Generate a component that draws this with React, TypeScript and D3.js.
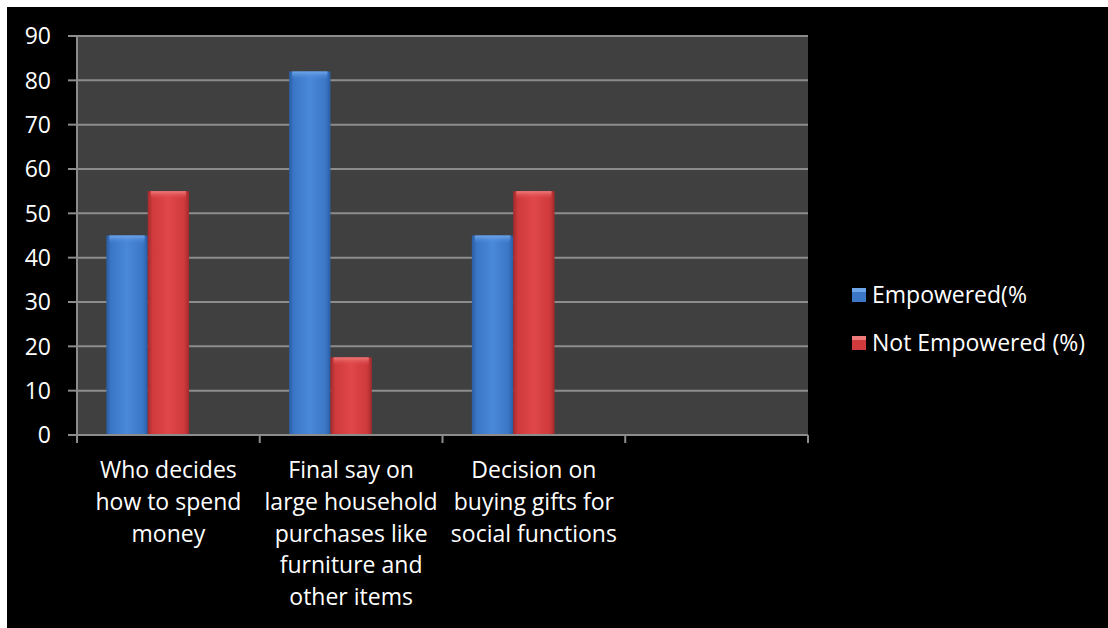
import React, { useEffect } from "react";
import * as d3 from "d3";

const categories = [
  ["Who decides", "how to spend", "money"],
  ["Final say on", "large household", "purchases like", "furniture and", "other items"],
  ["Decision on", "buying gifts for", "social functions"],
  [],
];
const seriesNames = ["Empowered(%", "Not Empowered (%)", ""];
const empowered = [45, 82, 45, null];
const notEmpowered = [55, 17.5, 55, null];
const yTicks = [0, 10, 20, 30, 40, 50, 60, 70, 80, 90];

const W = 1108;
const H = 628;
const left = 77;
const right = 808;
const top = 36;
const bottom = 435;
const FONT = "'Open Sans', Carlito, Calibri, sans-serif";
const FS = 23;

export default function App() {
  useEffect(() => {
    document.body.style.margin = "0";
    document.body.style.overflow = "hidden";
  }, []);
  const x0 = d3.scaleBand<number>().domain(categories.map((_, i) => i)).range([left, right]).padding(0);
  const x1 = d3.scaleBand<number>().domain([0, 1, 2]).range([0, x0.bandwidth()]).paddingInner(0).paddingOuter(0.71);
  const y = d3.scaleLinear().domain([0, 90]).range([bottom, top]);
  const series = [empowered, notEmpowered];
  const grads = [
    { id: "gBlue", edge: "#2a5da3", mid: "#4a88d9", light: "#6fa6ea", fill: "#3b77c6" },
    { id: "gRed", edge: "#a52a2c", mid: "#e0474a", light: "#ef7a7a", fill: "#cf3a3d" },
  ];
  const tickXs = categories.map((_, i) => x0(i)!).concat([right]);

  return (
    <svg width={W} height={H} style={{ position: "absolute", left: 0, top: 0, display: "block" }}>
      <defs>
        {grads.map((g) => (
          <linearGradient key={g.id} id={g.id} x1="0" x2="1" y1="0" y2="0">
            <stop offset="0" stopColor={g.edge} />
            <stop offset="0.12" stopColor={g.fill} />
            <stop offset="0.5" stopColor={g.mid} />
            <stop offset="0.88" stopColor={g.fill} />
            <stop offset="1" stopColor={g.edge} />
          </linearGradient>
        ))}
        {grads.map((g) => (
          <linearGradient key={g.id + "t"} id={g.id + "t"} x1="0" x2="0" y1="0" y2="1">
            <stop offset="0" stopColor={g.light} />
            <stop offset="1" stopColor={g.mid} stopOpacity="0" />
          </linearGradient>
        ))}
      </defs>
      <rect x={0} y={0} width={W} height={H} fill="#ffffff" />
      <rect x={7} y={7} width={W - 7} height={H - 7} fill="#000000" />
      <rect x={left} y={top} width={right - left} height={bottom - top} fill="#404040" />
      {yTicks.map((t) => (
        <g key={t}>
          {t > 0 && <line x1={left} x2={right} y1={y(t)} y2={y(t)} stroke="#8c8c8c" strokeWidth={2} />}
          <line x1={68} x2={left} y1={y(t)} y2={y(t)} stroke="#8c8c8c" strokeWidth={2} />
          <text x={51} y={y(t)} dy="0.36em" textAnchor="end" fill="#ffffff" fontSize={FS} fontFamily={FONT}>
            {t}
          </text>
        </g>
      ))}
      {series.map((vals, s) =>
        vals.map((v, i) => {
          if (v == null) return null;
          const bx = x0(i)! + x1(s)!;
          const bw = x1.bandwidth();
          const by = y(v);
          const bh = bottom - by;
          return (
            <g key={s + "-" + i}>
              <rect x={bx} y={by} width={bw} height={bh} fill={`url(#${grads[s].id})`} />
              <rect x={bx + 3} y={by} width={bw - 6} height={Math.min(8, bh)} fill={`url(#${grads[s].id}t)`} />
            </g>
          );
        })
      )}
      <line x1={left} x2={left} y1={top} y2={bottom + 8} stroke="#8c8c8c" strokeWidth={2} />
      <line x1={68} x2={right} y1={bottom} y2={bottom} stroke="#8c8c8c" strokeWidth={2} />
      {tickXs.map((tx, i) => (
        <line key={i} x1={tx} x2={tx} y1={bottom} y2={bottom + 8} stroke="#8c8c8c" strokeWidth={2} />
      ))}
      {categories.map((lines, i) => (
        <text key={i} x={x0(i)! + x0.bandwidth() / 2} y={470} textAnchor="middle" fill="#ffffff" fontSize={FS} fontFamily={FONT}>
          {lines.map((l, k) => (
            <tspan key={k} x={x0(i)! + x0.bandwidth() / 2} y={470 + k * 31.7} dy="0.36em">
              {l}
            </tspan>
          ))}
        </text>
      ))}
      {seriesNames.slice(0, 2).map((n, s) => {
        const ly = 295 + s * 48;
        return (
          <g key={n}>
            <rect x={852} y={ly - 7} width={14} height={14} fill={grads[s].fill} />
            <rect x={852} y={ly - 7} width={14} height={4} fill={grads[s].light} />
            <text x={872} y={ly} dy="0.36em" fill="#ffffff" fontSize={FS} fontFamily={FONT}>
              {n}
            </text>
          </g>
        );
      })}
    </svg>
  );
}
